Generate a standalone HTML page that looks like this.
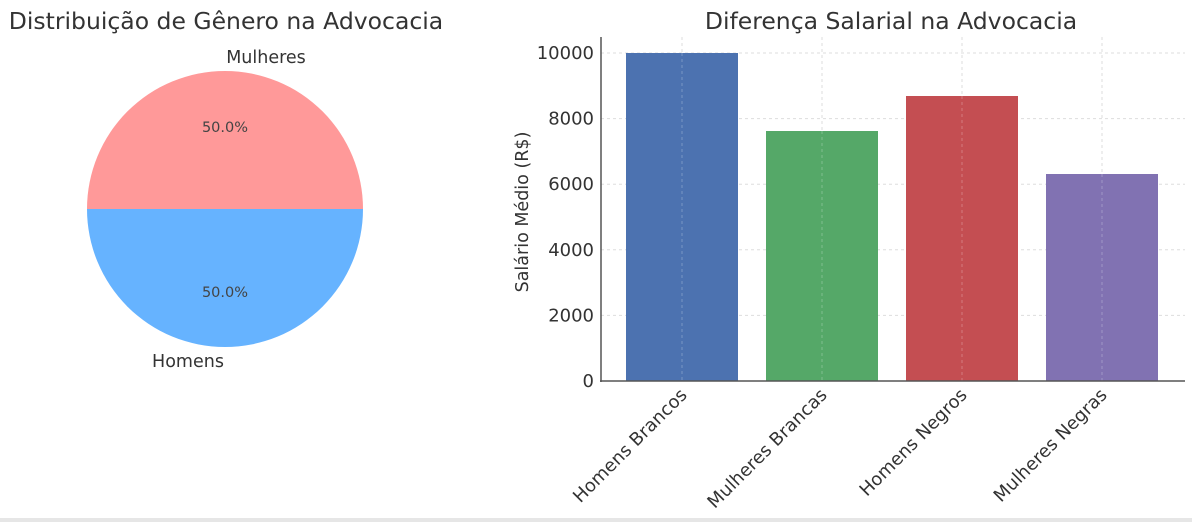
<!DOCTYPE html>
<html><head><meta charset="utf-8"><style>body{margin:0;background:#fff}svg{display:block}</style></head>
<body>
<svg width="1192" height="522" xmlns="http://www.w3.org/2000/svg" font-family="DejaVu Sans, Liberation Sans, sans-serif">
<rect width="1192" height="522" fill="#fff"/>
<text x="226" y="29" font-size="23.5" text-anchor="middle" fill="#333">Distribuição de Gênero na Advocacia</text>
<path d="M87,209 A138,138 0 0 1 363,209 Z" fill="#ff9999"/>
<path d="M87,209 A138,138 0 0 0 363,209 Z" fill="#66b3ff"/>
<text x="266" y="63" font-size="17.5" text-anchor="middle" fill="#333">Mulheres</text>
<text x="188" y="367" font-size="17.5" text-anchor="middle" fill="#333">Homens</text>
<text x="225" y="132" font-size="14.5" text-anchor="middle" fill="#444">50.0%</text>
<text x="225" y="297" font-size="14.5" text-anchor="middle" fill="#444">50.0%</text>

<text x="891" y="29" font-size="23.5" text-anchor="middle" fill="#333">Diferença Salarial na Advocacia</text>
<g stroke="#ddd" stroke-dasharray="3,3" stroke-width="1">
<line x1="601" x2="1185" y1="53" y2="53"/><line x1="601" x2="1185" y1="118.6" y2="118.6"/>
<line x1="601" x2="1185" y1="184.2" y2="184.2"/><line x1="601" x2="1185" y1="249.8" y2="249.8"/>
<line x1="601" x2="1185" y1="315.4" y2="315.4"/>
<line x1="682" x2="682" y1="37" y2="381"/><line x1="822" x2="822" y1="37" y2="381"/>
<line x1="962" x2="962" y1="37" y2="381"/><line x1="1102" x2="1102" y1="37" y2="381"/>
</g>
<rect x="626" y="53" width="112" height="328" fill="#4c72b0"/>
<rect x="766" y="131" width="112" height="250" fill="#55a868"/>
<rect x="906" y="96" width="112" height="285" fill="#c44e52"/>
<rect x="1046" y="174" width="112" height="207" fill="#8172b2"/>
<g stroke="#ffffff" stroke-opacity="0.25" stroke-dasharray="3,3"><line x1="682" x2="682" y1="53" y2="381"/><line x1="822" x2="822" y1="131" y2="381"/><line x1="962" x2="962" y1="96" y2="381"/><line x1="1102" x2="1102" y1="174" y2="381"/></g>
<line x1="601" y1="37" x2="601" y2="382" stroke="#555" stroke-width="1.5"/>
<line x1="600" y1="381" x2="1185" y2="381" stroke="#555" stroke-width="1.5"/>
<g font-size="18" fill="#333" text-anchor="end">
<text x="594" y="59">10000</text><text x="594" y="124.6">8000</text><text x="594" y="190.2">6000</text>
<text x="594" y="255.8">4000</text><text x="594" y="321.4">2000</text><text x="594" y="387">0</text>
</g>
<text transform="translate(528,212) rotate(-90)" font-size="17.5" fill="#333" text-anchor="middle">Salário Médio (R$)</text>
<g font-size="18" fill="#333" text-anchor="end">
<text transform="translate(688,396) rotate(-45)">Homens Brancos</text>
<text transform="translate(828,396) rotate(-45)">Mulheres Brancas</text>
<text transform="translate(968,396) rotate(-45)">Homens Negros</text>
<text transform="translate(1108,396) rotate(-45)">Mulheres Negras</text>
</g>
<rect x="0" y="518" width="1192" height="4" fill="#e6e6e6"/>
</svg>
</body></html>
